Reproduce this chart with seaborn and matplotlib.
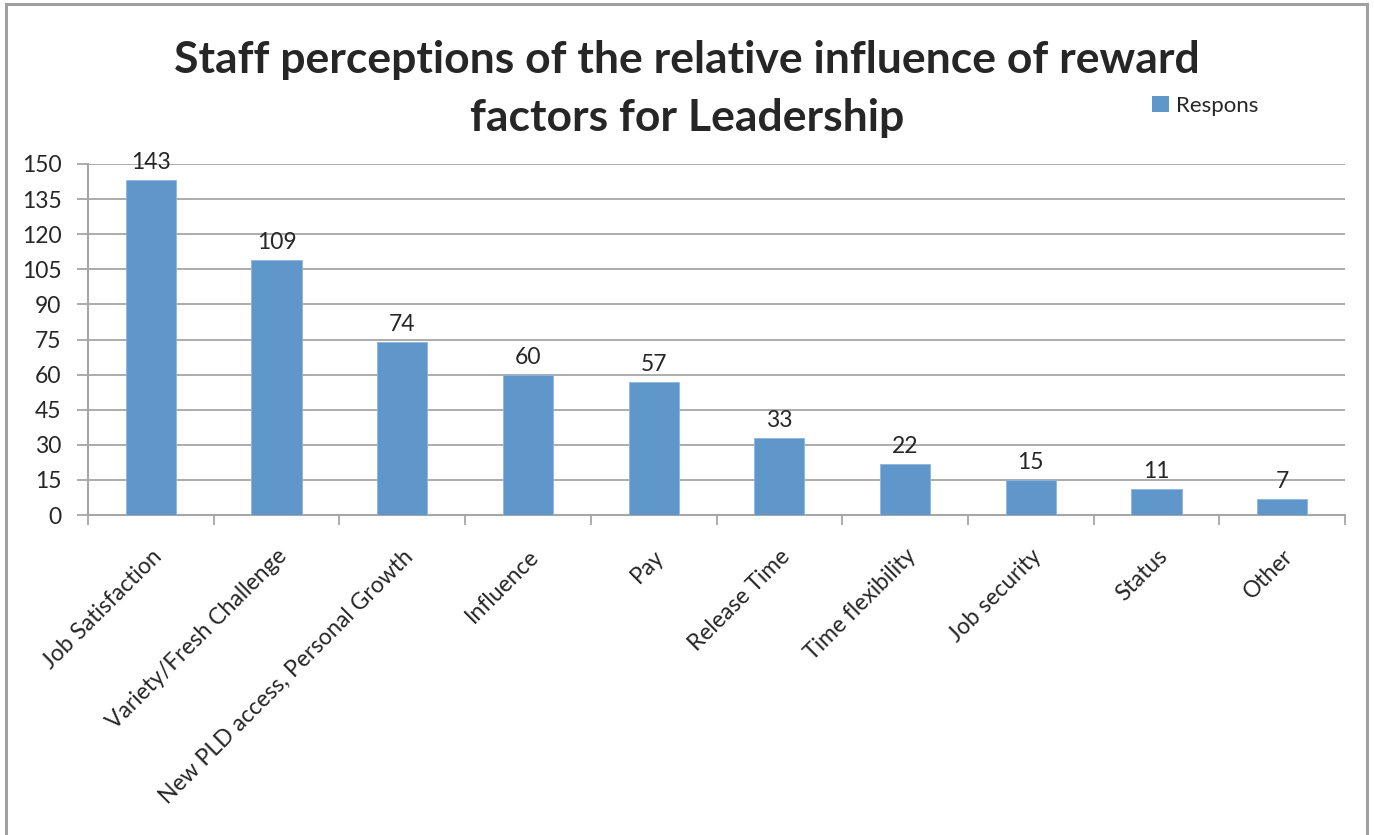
import matplotlib
matplotlib.use("Agg")
import matplotlib.pyplot as plt
import seaborn as sns
import pandas as pd
import numpy as np
from matplotlib.patches import Rectangle, Patch

categories = ["Job Satisfaction", "Variety/Fresh Challenge", "New PLD access, Personal Growth",
              "Influence", "Pay", "Release Time", "Time flexibility", "Job security", "Status", "Other"]
values = [143, 109, 74, 60, 57, 33, 22, 15, 11, 7]
series_name = "Respons"
yticks = list(range(0, 151, 15))

sns.set_theme(style="white")
plt.rcParams['font.family'] = ['Lato', 'DejaVu Sans']

df = pd.DataFrame({"cat": categories, "val": values})

fig = plt.figure(figsize=(13.74, 8.35), dpi=100)
ax = fig.add_axes([88/1374, 1-515/835, (1345-88)/1374, (515-164)/835])

bar_color = "#6097CA"
sns.barplot(data=df, x="cat", y="val", color=bar_color, width=0.4, ax=ax,
            saturation=1, edgecolor="#8DB4E0", linewidth=0.6, zorder=3)

ax.set_ylim(0, 150)
ax.set_xlim(-0.5, len(categories) - 0.5)
ax.set_yticks(yticks)
ax.set_yticklabels([str(t) for t in yticks], fontsize=16.5)
ax.yaxis.grid(True, color="#A6A6A6", linewidth=1.3, zorder=0)
ax.set_axisbelow(True)

grid_col = "#A6A6A6"
for s in ["top", "right"]:
    ax.spines[s].set_visible(False)
for s in ["left", "bottom"]:
    ax.spines[s].set_color(grid_col)
    ax.spines[s].set_linewidth(1.5)

ax.tick_params(axis="y", which="major", length=8, width=1.3, color=grid_col, direction="out", left=True, pad=11)
ax.set_xticks(np.arange(len(categories)))
ax.set_xticklabels(categories, rotation=45, ha="right", rotation_mode="anchor", fontsize=16.5)
ax.tick_params(axis="x", which="major", length=0, pad=22)
ax.set_xticks(np.arange(-0.5, len(categories)), minor=True)
ax.tick_params(axis="x", which="minor", length=7, width=1.3, color=grid_col, direction="out", bottom=True)
ax.set_xlabel("")
ax.set_ylabel("")

for c in ax.containers:
    ax.bar_label(c, labels=[str(v) for v in values], padding=5, fontsize=16.5)

fig.text(0.5, 1-60/835, "Staff perceptions of the relative influence of reward", ha="center", va="center",
         fontsize=32, fontweight="bold")
fig.text(0.5, 1-118/835, "factors for Leadership", ha="center", va="center",
         fontsize=32, fontweight="bold")

handle = Patch(facecolor=bar_color, edgecolor="none")
fig.legend([handle], [series_name], loc="center left", bbox_to_anchor=(1132/1374, 1-106/835),
           frameon=False, fontsize=16, handlelength=0.75, handleheight=0.75, handletextpad=0.35)

fig.patches.append(Rectangle((6/1374, -0.1), (1367-6)/1374, 1.1 - 4/835, transform=fig.transFigure,
                             fill=False, edgecolor="#A0A0A0", linewidth=2.2))

fig.savefig("out.png", dpi=100)
